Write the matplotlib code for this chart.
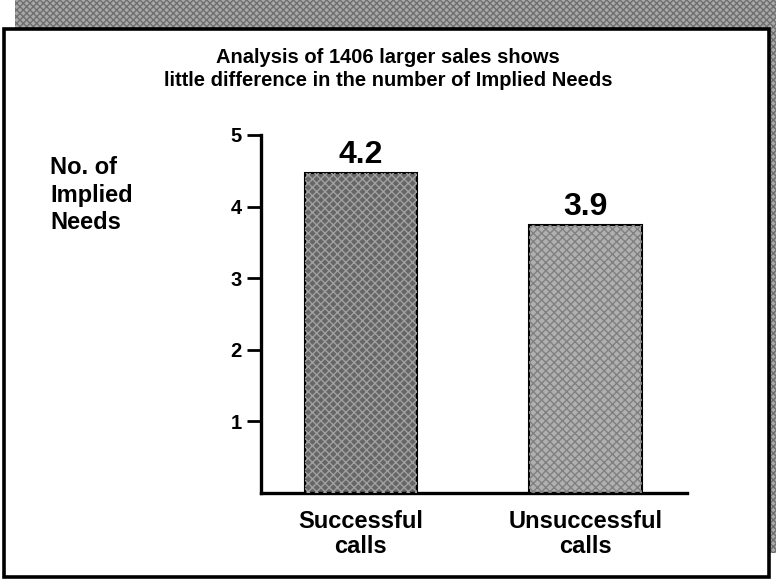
import matplotlib
matplotlib.use("Agg")
import matplotlib.pyplot as plt
from matplotlib.patches import Rectangle

# data
categories = ["Successful\ncalls", "Unsuccessful\ncalls"]
bar_heights = [4.47, 3.74]          # drawn height of each bar
value_labels = ["4.2", "3.9"]       # printed value above each bar
y_ticks = [1, 2, 3, 4, 5]

plt.rcParams['font.family'] = ['Liberation Sans', 'DejaVu Sans']
plt.rcParams['font.weight'] = 'bold'
plt.rcParams['hatch.linewidth'] = 1.0

fig = plt.figure(figsize=(7.76, 5.8), dpi=100)
W, H = 776, 580

# dotted drop shadow behind the frame
shadow = Rectangle((15 / W, 1 - 553 / H), 1 - 15 / W, 553 / H, transform=fig.transFigure,
                   facecolor='#a8a8a8', edgecolor='#6f6f6f', lw=0, hatch='xxxxx', zorder=-2)
frame = Rectangle((4 / W, 1 - 577 / H), 765 / W, 548 / H, transform=fig.transFigure,
                  facecolor='white', edgecolor='black', lw=2.6, zorder=-1)
fig.patches.extend([shadow, frame])

fig.text(388 / W, 1 - 69 / H,
         "Analysis of 1406 larger sales shows\nlittle difference in the number of Implied Needs",
         ha='center', va='center', fontsize=14.5, fontweight='bold', linespacing=1.25)
fig.text(50 / W, 1 - 195 / H, "No. of\nImplied\nNeeds", ha='left', va='center',
         fontsize=17, fontweight='bold', linespacing=1.27)

ax = fig.add_axes([261 / W, 1 - 493 / H, 426 / W, 358 / H])
ax.set_facecolor('none')

x = list(range(len(categories)))
bars = ax.bar(x, bar_heights, width=0.5, color=['#666666', '#b0b0b0'],
              edgecolor='black', lw=1.5, zorder=2)
overlay = ax.bar(x, bar_heights, width=0.5, fill=False, lw=0, zorder=3)
for p, hc in zip(overlay, ['#a0a0a0', '#808080']):
    p.set_hatch('xxxx')
    p.set_edgecolor(hc)

for xi, h, lab in zip(x, bar_heights, value_labels):
    ax.annotate(lab, (xi, h), xytext=(0, 2), textcoords='offset points',
                ha='center', va='bottom', fontsize=23, fontweight='bold')

ax.set_xlim(-0.445, 1.452)
ax.set_ylim(0, 5)
ax.set_yticks(y_ticks)
ax.set_xticks(x)
ax.set_xticklabels(categories, fontsize=17, fontweight='bold', linespacing=1.15)
ax.tick_params(axis='x', length=0, pad=12)
ax.tick_params(axis='y', length=10, width=2, pad=4, labelsize=14.5)
for t in ax.get_yticklabels():
    t.set_fontweight('bold')

for s in ['top', 'right']:
    ax.spines[s].set_visible(False)
ax.spines['left'].set_linewidth(2.4)
ax.spines['bottom'].set_linewidth(2.4)

fig.savefig("out.png", dpi=100)
